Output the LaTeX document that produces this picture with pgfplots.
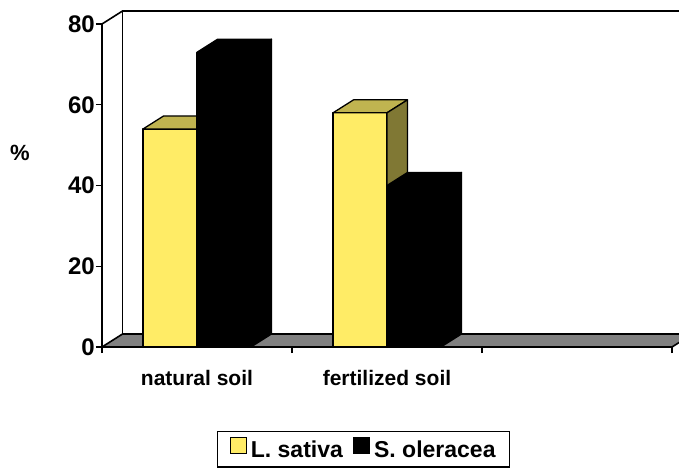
\documentclass[border=0pt]{standalone}
\usepackage{pgfplots}
\pgfplotsset{compat=1.18}
\usepackage{pgfplotstable}
\usepackage{fontspec}
\setmainfont{Liberation Sans}

\definecolor{satfront}{RGB}{255,236,102}
\definecolor{sattop}{RGB}{192,180,80}
\definecolor{satside}{RGB}{128,120,52}
\definecolor{floorgray}{RGB}{128,128,128}

% share of plants (%) by soil type
\pgfplotstableread{
pos  sativa  oleracea
0.5  54      73
1.5  58      40
}\soildata

% oblique depth of the 3-D boxes, in axis units
\newcommand{\depthx}{0.108}
\newcommand{\depthy}{3.22}
\newcommand{\barw}{0.284}

% a box: front face, top face, right side face
\newcommand{\drawcube}[6]{%
  \pgfmathsetmacro\cxl{#1}\pgfmathsetmacro\cxr{#2}\pgfmathsetmacro\cv{#3}%
  \pgfmathsetmacro\cxlb{#1+\depthx}\pgfmathsetmacro\cxrb{#2+\depthx}%
  \pgfmathsetmacro\cvb{#3+\depthy}%
  \edef\doplot{%
    \noexpand\addplot[fill=#4, draw=black, line width=1.3pt, line join=round, forget plot]
      coordinates {(\cxl,0) (\cxr,0) (\cxr,\cv) (\cxl,\cv)} --cycle;
    \noexpand\addplot[fill=#5, draw=black, line width=1.3pt, line join=round, forget plot]
      coordinates {(\cxl,\cv) (\cxr,\cv) (\cxrb,\cvb) (\cxlb,\cvb)} --cycle;
    \noexpand\addplot[fill=#6, draw=black, line width=1.3pt, line join=round, forget plot]
      coordinates {(\cxr,0) (\cxrb,\depthy) (\cxrb,\cvb) (\cxr,\cv)} --cycle;
  }\doplot
}

\begin{document}
\begin{tikzpicture}
\useasboundingbox (0pt,0pt) rectangle (679pt,474pt);
\begin{axis}[
  at={(102pt,127pt)}, anchor=south west,
  scale only axis, width=570pt, height=323pt,
  xmin=0, xmax=3, ymin=0, ymax=80,
  clip=false, axis on top,
  axis x line*=bottom, axis y line*=left,
  axis line style={line width=1.8pt, black},
  xtick={0,1,2,3}, xticklabels={},
  extra x ticks={0.5,1.5},
  extra x tick labels={natural soil, fertilized soil},
  extra x tick style={major tick length=0pt,
    xticklabel style={yshift=-20pt}},
  ytick={0,20,...,80},
  tick align=outside, major tick length=6pt,
  tick style={black, line width=1.4pt},
  /pgf/number format/assume math mode=true,
  every tick label/.append style={font=\bfseries\fontsize{21}{21}\selectfont},
  every y tick label/.append style={font=\bfseries\fontsize{24}{24}\selectfont, inner xsep=1pt},
  ylabel={\%},
  ylabel style={rotate=-90, font=\bfseries\fontsize{22}{22}\selectfont,
    at={(axis description cs:-0.144,0.601)}, anchor=center},
  legend image code/.code={\draw[#1, line width=1.2pt] (0pt,-4pt) rectangle (16pt,12pt);},
  legend style={at={(axis description cs:0.459,-0.316)}, anchor=center,
    draw=black, line width=1.4pt, legend columns=2,
    font=\bfseries\fontsize{23}{23}\selectfont,
    inner xsep=12pt, inner ysep=6pt,
    /tikz/every odd column/.append style={column sep=2pt},
    /tikz/every even column/.append style={column sep=8pt}},
]
% back wall and floor
\addplot[draw=black, line width=1.6pt, forget plot]
  coordinates {(0,80) (0.108,83.22) (3.4,83.22)};
\addplot[draw=black, line width=1.6pt, forget plot]
  coordinates {(0.108,3.22) (0.108,83.22)};
\addplot[fill=floorgray, draw=black, line width=1.6pt, forget plot]
  coordinates {(0,0) (3,0) (3.108,3.22) (0.108,3.22)} --cycle;

% boxes, one pair per soil type
\pgfplotstablegetrowsof{\soildata}
\pgfmathtruncatemacro\lastrow{\pgfplotsretval-1}
\pgfplotsforeachungrouped \r in {0,...,\lastrow}{%
  \pgfplotstablegetelem{\r}{pos}\of\soildata \let\P\pgfplotsretval
  \pgfplotstablegetelem{\r}{sativa}\of\soildata \let\A\pgfplotsretval
  \pgfplotstablegetelem{\r}{oleracea}\of\soildata \let\B\pgfplotsretval
  \pgfmathsetmacro\xa{\P-\barw}%
  \pgfmathsetmacro\xc{\P+\barw}%
  \drawcube{\xa}{\P}{\A}{satfront}{sattop}{satside}%
  \drawcube{\P}{\xc}{\B}{black}{black}{black}%
}

\addlegendimage{fill=satfront, draw=black}
\addlegendentry{L. sativa}
\addlegendimage{fill=black, draw=black}
\addlegendentry{S. oleracea}
\end{axis}
\end{tikzpicture}
\end{document}
